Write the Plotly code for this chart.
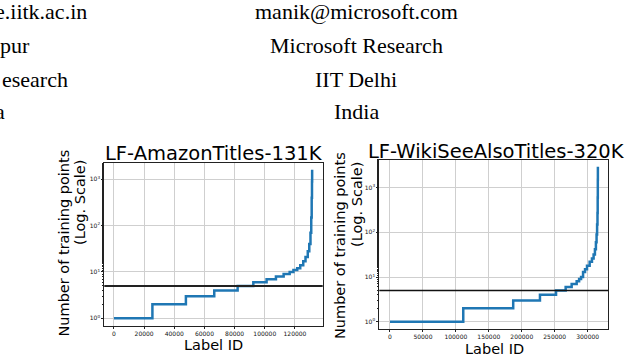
import plotly.graph_objects as go

# label frequency curves (sorted)
amazon_ids = [0, 25500, 47700, 66500, 82000, 92400, 101200, 107400, 112500, 116500,
              119000, 121500, 123500, 125500, 127000, 128500, 129500, 130300, 130800,
              131100, 131300, 131400]
amazon_cnt = [1, 2, 3, 4, 5, 6, 7, 8, 9, 10, 11, 12, 14, 17, 21, 28, 40, 70, 150, 400,
              900, 1600]

wiki_ids = [0, 111200, 187000, 227600, 252000, 266600, 275700, 283300, 287000, 290000,
            293000, 296000, 299000, 303000, 306500, 309000, 311000, 312500, 313500,
            314300, 314900, 315200, 315400, 315500]
wiki_cnt = [1, 2, 3, 4, 5, 6, 7, 8, 9, 10, 13, 15, 18, 22, 26, 32, 42, 60, 90, 150, 270,
            600, 1500, 2950]

threshold = 5

left_ticks = [0, 20000, 40000, 60000, 80000, 100000, 120000]
right_ticks = [0, 50000, 100000, 150000, 200000, 250000, 300000]
y_ticks = [1, 10, 100, 1000]
y_text = ["10<sup>0</sup>", "10<sup>1</sup>", "10<sup>2</sup>", "10<sup>3</sup>"]

# header text visible above the plots (cropped page)
left_col = ["e.iitk.ac.in", "pur", "esearch", "a"]
left_col_end = [89, 32, 70, 7]
right_col = ["manik@microsoft.com", "Microsoft Research", "IIT Delhi", "India"]

W, H = 630, 356
blue = "#1f77b4"
sans = "DejaVu Sans"
serif = "Liberation Serif"


def px(x):
    return x / W


def py(y):
    return 1 - y / H


fig = go.Figure()
fig.add_trace(go.Scatter(x=amazon_ids, y=amazon_cnt, mode="lines", line_shape="hv",
                         line=dict(color=blue, width=2.5), xaxis="x", yaxis="y"))
fig.add_trace(go.Scatter(x=wiki_ids, y=wiki_cnt, mode="lines", line_shape="hv",
                         line=dict(color=blue, width=2.5), xaxis="x2", yaxis="y2"))

fig.add_shape(type="line", xref="x domain", yref="y", x0=0, x1=1, y0=threshold, y1=threshold,
              line=dict(color="#222222", width=2))
fig.add_shape(type="line", xref="x2 domain", yref="y2", x0=0, x1=1, y0=threshold, y1=threshold,
              line=dict(color="#111111", width=1.6))

xax = dict(showline=True, linecolor="#222", linewidth=1, mirror=True, ticks="outside",
           ticklen=2, tickcolor="#222", showgrid=True, gridcolor="#cfcfcf", gridwidth=1,
           zeroline=False, tickfont=dict(family=sans, size=6, color="#111"))
yax = dict(xax, type="log", tickvals=y_ticks, ticktext=y_text,
           minor=dict(ticks="outside", ticklen=1.5, tickcolor="#222", showgrid=False))

fig.update_layout(
    width=W, height=H, margin=dict(l=0, r=0, t=0, b=0),
    paper_bgcolor="white", plot_bgcolor="white", showlegend=False,
    xaxis=dict(xax, domain=[px(104.3), px(322.7)], range=[-6400, 138400],
               tickvals=left_ticks, tickformat="d", anchor="y"),
    yaxis=dict(yax, domain=[py(326), py(163.3)], range=[-0.166, 3.345], anchor="x"),
    xaxis2=dict(xax, domain=[px(379.3), px(608.3)], range=[-16200, 331300],
                tickvals=right_ticks, tickformat="d", anchor="y2"),
    yaxis2=dict(yax, domain=[py(329), py(160)], range=[-0.163, 3.62], anchor="x2"),
)

ann = []
# titles
ann.append(dict(text="LF-AmazonTitles-131K", x=px(213.5), y=py(153), xanchor="center",
                yanchor="middle", font=dict(family=sans, size=19.5, color="black")))
ann.append(dict(text="LF-WikiSeeAlsoTitles-320K", x=px(496.5), y=py(152), xanchor="center",
                yanchor="middle", font=dict(family=sans, size=19.5, color="black")))
# x labels
ann.append(dict(text="Label ID", x=px(213), y=py(345), xanchor="center", yanchor="middle",
                font=dict(family=sans, size=14.5, color="black")))
ann.append(dict(text="Label ID", x=px(494), y=py(348.5), xanchor="center", yanchor="middle",
                font=dict(family=sans, size=14.5, color="black")))
# y labels (two lines each)
for x1, yc1, x2, yc2 in [(63, 243.5, 80, 203), (340, 246, 357, 205)]:
    ann.append(dict(text="Number of training points", x=px(x1), y=py(yc1), textangle=-90,
                    xanchor="center", yanchor="middle",
                    font=dict(family=sans, size=14.5, color="black")))
    ann.append(dict(text="(Log. Scale)", x=px(x2), y=py(yc2), textangle=-90,
                    xanchor="center", yanchor="middle",
                    font=dict(family=sans, size=14.5, color="black")))
# header text
rows = [11, 45, 79, 111]
for t, xe, yy in zip(left_col, left_col_end, rows):
    ann.append(dict(text=t, x=px(xe), y=py(yy), xanchor="right", yanchor="middle",
                    font=dict(family=serif, size=22, color="black")))
for t, yy in zip(right_col, rows):
    ann.append(dict(text=t, x=px(356), y=py(yy), xanchor="center", yanchor="middle",
                    font=dict(family=serif, size=22, color="black")))

for a in ann:
    a.update(xref="paper", yref="paper", showarrow=False)
fig.update_layout(annotations=ann)

fig.write_html("out.html", config={"displayModeBar": False},
               post_script="document.body.style.margin='0';document.body.style.overflow='hidden';")
